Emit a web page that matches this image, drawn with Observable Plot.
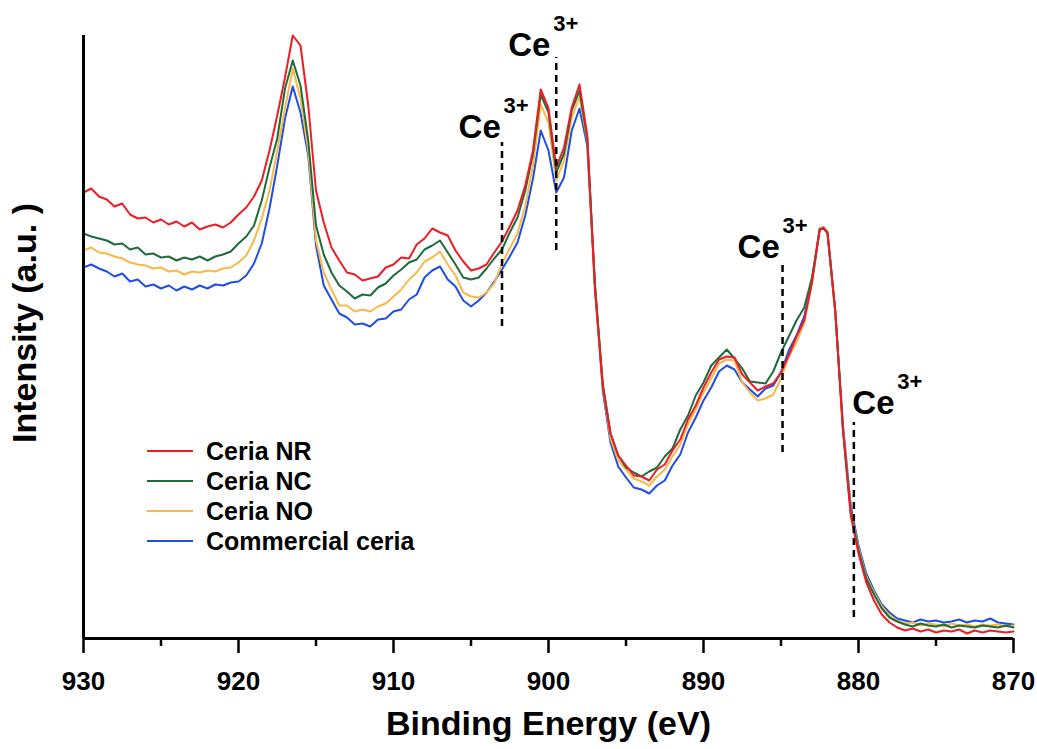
<!DOCTYPE html>
<html><head><meta charset="utf-8">
<script src="https://cdn.jsdelivr.net/npm/d3@7"></script>
<script src="https://cdn.jsdelivr.net/npm/@observablehq/plot@0.6"></script>
<style>
body{margin:0;background:#fff;}
#wrap{position:relative;width:1037px;height:749px;font-family:"Liberation Sans",Arial,sans-serif;}
#legend{position:absolute;left:147px;top:436px;}
.row{display:flex;align-items:center;height:30px;font-weight:bold;font-size:25px;color:#000;white-space:nowrap;}
.sw{width:46px;height:2px;margin-right:13px;}
</style></head><body><div id="wrap"><div id="legend"></div></div>
<script>
// Binding energy grid (eV)
const energy = [930,929.5,929,928.5,928,927.5,927,926.5,926,925.5,925,924.5,924,923.5,923,922.5,922,921.5,921,920.5,920,919.5,919,918.5,918,917.5,917,916.5,916,915.5,915,914.5,914,913.5,913,912.5,912,911.5,911,910.5,910,909.5,909,908.5,908,907.5,907,906.5,906,905.5,905,904.5,904,903.5,903,902.5,902,901.5,901,900.5,900,899.5,899,898.5,898,897.5,897,896.5,896,895.5,895,894.5,894,893.5,893,892.5,892,891.5,891,890.5,890,889.5,889,888.5,888,887.5,887,886.5,886,885.5,885,884.5,884,883.5,883,882.5,882.25,882,881.5,881,880.5,880,879.5,879,878.5,878,877.5,877,876.5,876,875.5,875,874.5,874,873.5,873,872.5,872,871.5,871,870.5,870];

// Intensities (a.u.)
const ceriaNR = [446,450,442,439,432,435,424,420,421,416,
419,414,417,412,416,409,412,414,411,416,
424,431,442,458,488,523,561,603,593,533,
448,416,391,378,366,364,358,360,362,371,
374,381,380,394,400,410,406,403,388,377,
368,370,374,386,397,412,428,453,488,549,
530,471,491,531,554,503,348,253,205,183,
173,163,162,158,169,174,188,199,219,233,
251,266,279,282,281,264,256,248,252,255,
266,283,302,318,356,409,411,406,328,208,123,
85,56,38,24,16,11,8,10,7,9,
6,8,7,9,5,8,6,8,7,6,
7];
const ceriaNC = [405,402,400,398,394,395,389,391,384,385,
381,382,378,381,379,382,378,382,384,387,
395,402,413,438,471,500,550,578,553,498,
413,384,366,353,347,340,344,343,351,355,
363,369,376,379,389,393,398,386,374,361,
359,361,370,380,389,406,421,448,485,544,
526,466,485,528,548,500,353,255,205,183,
171,166,162,167,171,182,190,209,223,243,
256,273,281,289,280,270,257,256,255,267,
286,302,318,331,361,409,410,405,328,208,126,
88,60,44,30,21,17,14,12,15,13,
12,14,11,13,12,11,13,12,11,13,
11];
const ceriaNO = [388,391,386,385,382,380,376,374,373,370,
371,367,368,364,367,366,368,367,370,371,
376,383,398,420,448,488,530,570,540,488,
398,366,349,333,333,327,329,327,332,335,
342,349,359,366,377,381,387,374,363,346,
342,341,346,355,375,390,405,433,473,534,
516,458,478,521,542,498,350,252,200,178,
169,160,157,153,162,169,182,194,214,229,
246,260,275,279,278,256,246,238,240,244,
260,282,296,316,356,410,411,407,326,210,128,
90,62,46,32,23,18,15,16,13,15,
14,12,15,13,14,12,14,13,14,12,
13];
const commercial = [371,374,370,367,362,365,357,359,352,354,
350,353,348,352,349,353,350,354,353,356,
357,363,375,395,430,473,520,552,526,483,
393,353,339,325,321,314,315,312,319,320,
327,329,339,344,361,368,372,359,352,338,
332,338,346,357,369,382,396,423,460,508,
488,446,461,508,530,493,353,248,196,172,
161,151,149,145,153,158,173,184,206,221,
238,251,267,273,269,256,249,242,250,253,
266,288,303,322,358,410,410,406,326,213,133,
93,65,48,34,26,20,18,16,19,17,
18,16,17,19,16,18,17,20,16,15,
14];

const seriesNames = ["Ceria NR","Ceria NC","Ceria NO","Commercial ceria"];
const seriesColors = ["#ee1c24","#1e6b3b","#f7b94a","#1f4ee6"];
const seriesValues = [ceriaNR, ceriaNC, ceriaNO, commercial];

// Ce3+ markers
const ce3E = [903.0, 899.5, 884.9, 880.3];
const ce3Top = [496, 581, 378, 216];
const ce3Bottom = [312, 388, 186, 21];
const ce3LabelE = [905.8, 902.6, 887.8, 880.4];
const ce3LabelI = [501, 583, 381, 225];

const xTicks = [930,920,910,900,890,880,870];
const xMinor = [925,915,905,895,885,875];

const rows = [];
seriesNames.forEach((s, k) => energy.forEach((e, i) => rows.push({E: e, I: seriesValues[k][i], series: s})));
const markers = ce3E.map((e, i) => ({E: e, top: ce3Top[i], bottom: ce3Bottom[i], lE: ce3LabelE[i], lI: ce3LabelI[i]}));

const lineMarks = [3,2,1,0].map(k => Plot.line(rows.filter(r => r.series === seriesNames[k]), {x: "E", y: "I", stroke: seriesColors[k], strokeWidth: 2}));

const chart = Plot.plot({
  width: 1037, height: 749,
  marginLeft: 83, marginRight: 24, marginTop: 35, marginBottom: 111,
  style: {fontFamily: "'Liberation Sans', Arial, sans-serif", background: "white", color: "black"},
  x: {domain: [930, 870]},
  y: {domain: [0, 603], axis: null},
  marks: [
    ...lineMarks,
    Plot.ruleX(markers, {x: "E", y1: "bottom", y2: "top", stroke: "black", strokeWidth: 2.5, strokeDasharray: "7,5"}),
    Plot.text(markers, {x: "lE", y: "lI", text: () => "Ce", textAnchor: "start", lineAnchor: "bottom", fontSize: 33, fontWeight: "bold", fill: "black"}),
    Plot.text(markers, {x: "lE", y: "lI", text: () => "3+", textAnchor: "start", lineAnchor: "bottom", dx: 45, dy: -25, fontSize: 22, fontWeight: "bold", fill: "black"}),
    Plot.ruleY([0], {stroke: "black", strokeWidth: 3}),
    Plot.ruleX([930], {stroke: "black", strokeWidth: 3}),
    Plot.axisX(xTicks, {tickSize: 15, tickPadding: 18, fontSize: 26, fontWeight: "bold", strokeWidth: 2.5, label: null}),
    Plot.axisX(xMinor, {tickSize: 8, tickFormat: () => "", strokeWidth: 2.5, label: null}),
    Plot.text(["Binding Energy (eV)"], {frameAnchor: "bottom", lineAnchor: "middle", textAnchor: "middle", dy: 86, fontSize: 34, fontWeight: "bold", fill: "black"}),
    Plot.text(["Intensity (a.u. )"], {frameAnchor: "left", lineAnchor: "middle", textAnchor: "middle", rotate: -90, dx: -58, dy: -14, fontSize: 34, fontWeight: "bold", fill: "black"})
  ]
});
document.getElementById("wrap").prepend(chart);

const legend = document.getElementById("legend");
seriesNames.forEach((s, k) => {
  const row = document.createElement("div");
  row.className = "row";
  const sw = document.createElement("span");
  sw.className = "sw";
  sw.style.background = seriesColors[k];
  const t = document.createElement("span");
  t.textContent = s;
  row.append(sw, t);
  legend.append(row);
});
</script>
</body></html>
